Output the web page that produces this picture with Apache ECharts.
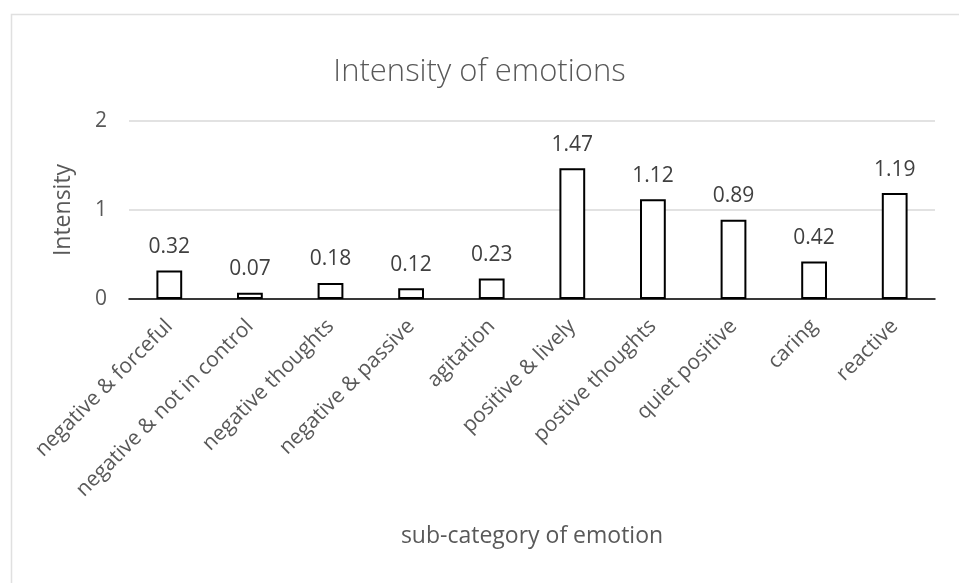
<!DOCTYPE html>
<html>
<head>
<meta charset="utf-8">
<script src="https://cdn.jsdelivr.net/npm/echarts@6/dist/echarts.min.js"></script>
<style>
html,body{margin:0;padding:0;background:#fff;}
#chart{width:959px;height:583px;}
</style>
</head>
<body>
<div id="chart"></div>
<script>
const categories = ["negative & forceful","negative & not in control","negative thoughts","negative & passive","agitation","positive & lively","postive thoughts","quiet positive","caring","reactive"];
const values = [0.32,0.07,0.18,0.12,0.23,1.47,1.12,0.89,0.42,1.19];
const yTicks = [0,1,2];
const titleText = "Intensity of emotions";
const xName = "sub-category of emotion";
const yName = "Intensity";

const FONT = "Open Sans";
const TXT = "#595959";
const chart = echarts.init(document.getElementById('chart'), null, {renderer:'canvas'});
chart.setOption({
  backgroundColor:'#fff',
  animation:false,
  graphic:[{
    type:'rect', left:9, top:12, shape:{width:960, height:600},
    style:{fill:'none', stroke:'#e0e0e0', lineWidth:1.5}, silent:true
  }],
  title:{
    text:titleText, left:'center', top:52,
    textStyle:{fontFamily:FONT, fontSize:31, fontWeight:300, color:TXT}
  },
  grid:{left:129, right:24, top:121, bottom:284, containLabel:false},
  xAxis:{
    type:'category', data:categories,
    name:xName, nameLocation:'middle', nameGap:226,
    nameTextStyle:{fontFamily:FONT, fontSize:23, color:TXT},
    axisLine:{lineStyle:{color:'#000', width:1.5}},
    axisTick:{show:false},
    axisLabel:{rotate:45, interval:0, margin:24, fontFamily:FONT, fontSize:21, color:TXT}
  },
  yAxis:{
    type:'value', min:yTicks[0], max:yTicks[yTicks.length-1], interval:1,
    name:yName, nameLocation:'middle', nameGap:54,
    nameTextStyle:{fontFamily:FONT, fontSize:23, color:TXT},
    axisLine:{show:false}, axisTick:{show:false},
    axisLabel:{margin:22, fontFamily:FONT, fontSize:21, color:TXT},
    splitLine:{lineStyle:{color:'#d9d9d9', width:1.5}}
  },
  series:[{
    type:'bar', data:values, barWidth:'32%',
    itemStyle:{color:'#fff', borderColor:'#000', borderWidth:2},
    label:{show:true, position:'top', distance:13, fontFamily:FONT, fontSize:21, color:'#404040',
      formatter:p=>p.value.toFixed(2)}
  }]
});
</script>
</body>
</html>
